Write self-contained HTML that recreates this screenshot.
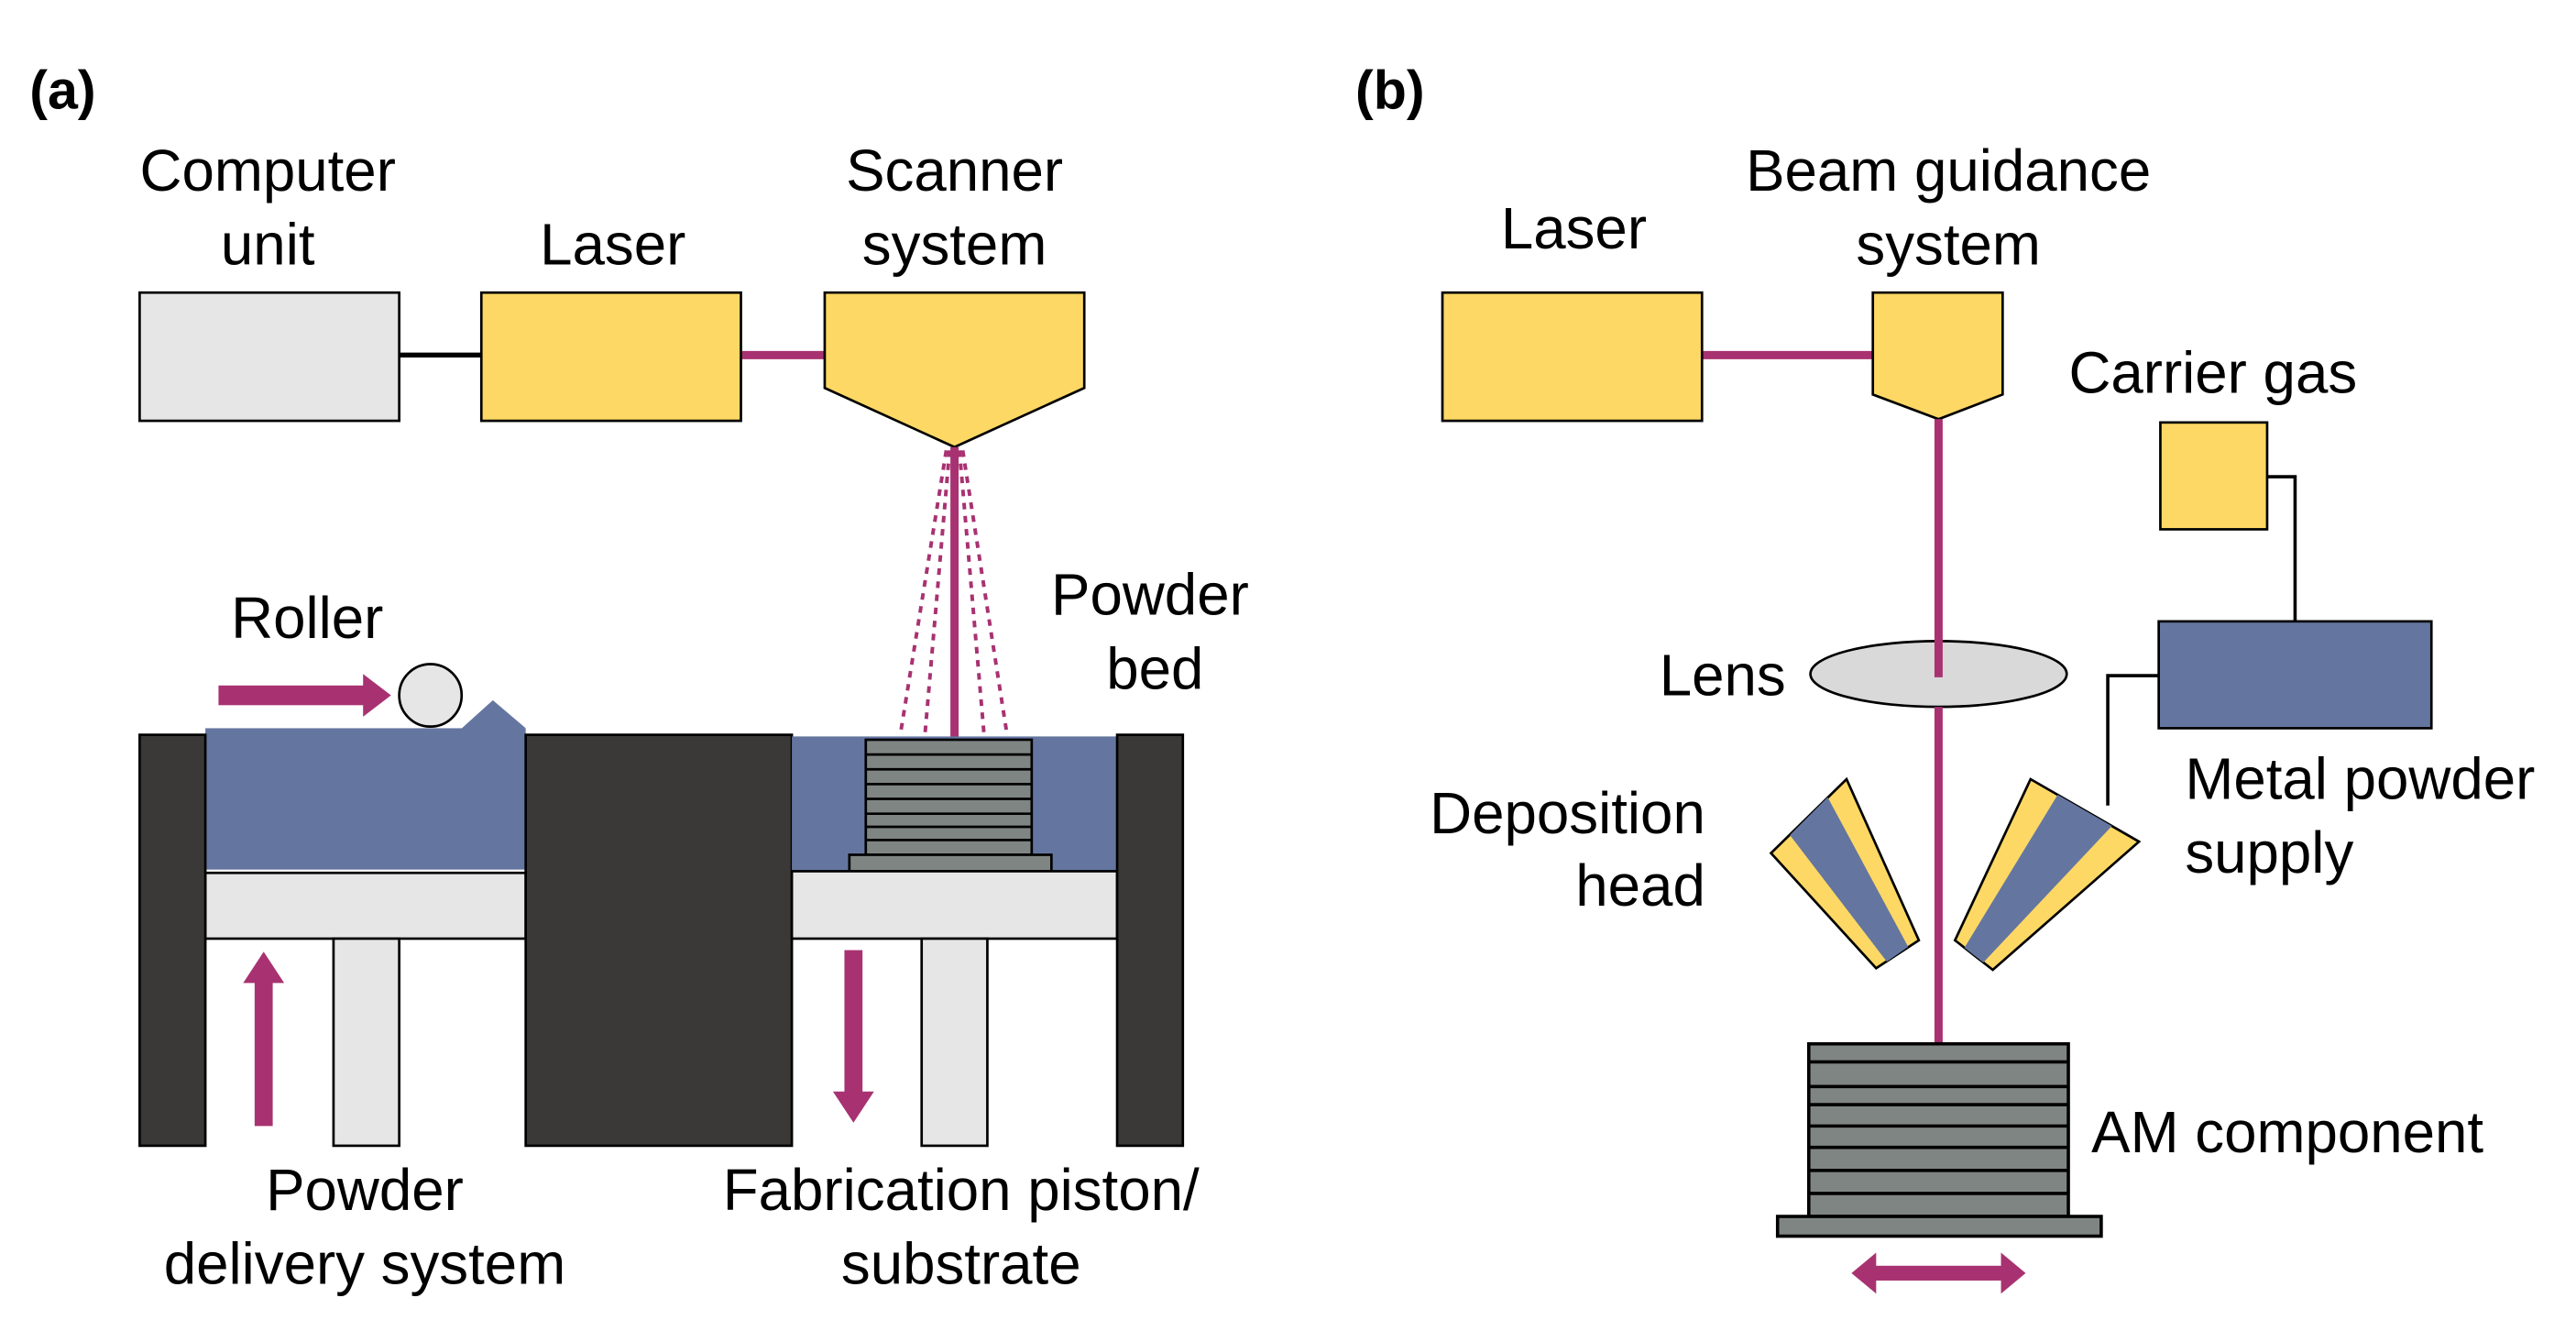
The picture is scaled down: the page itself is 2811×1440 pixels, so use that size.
<!DOCTYPE html>
<html><head><meta charset="utf-8"><style>
html,body{margin:0;padding:0;background:#fff;}
svg{display:block;}
text{font-family:"Liberation Sans",Arial,sans-serif;font-size:35.5px;fill:#000;}
</style></head><body>
<svg width="2811" height="1440" viewBox="0 0 1568 803" preserveAspectRatio="none" xmlns="http://www.w3.org/2000/svg">
<rect width="1568" height="803" fill="#fff"/>
<!-- (a) -->
<text x="18" y="66" style="font-weight:bold;font-size:33px">(a)</text>
<text x="163" y="116" text-anchor="middle">Computer</text>
<text x="163" y="161" text-anchor="middle">unit</text>
<text x="373" y="161" text-anchor="middle">Laser</text>
<text x="581" y="116" text-anchor="middle">Scanner</text>
<text x="581" y="161" text-anchor="middle">system</text>
<line x1="243" y1="216" x2="293" y2="216" stroke="#000" stroke-width="3"/>
<line x1="451" y1="216" x2="502" y2="216" stroke="#a83271" stroke-width="5"/>
<rect x="85" y="178" width="158" height="78" fill="#e6e6e6" stroke="#000" stroke-width="1.5"/>
<rect x="293" y="178" width="158" height="78" fill="#fdd865" stroke="#000" stroke-width="1.5"/>
<polygon points="502,178 660,178 660,236 581,272 502,236" fill="#fdd865" stroke="#000" stroke-width="1.5"/>
<g stroke="#a83271" stroke-width="2.2" stroke-dasharray="4,4" fill="none">
<line x1="576" y1="274" x2="548" y2="447"/>
<line x1="578" y1="274" x2="563" y2="447"/>
<line x1="584" y1="274" x2="599" y2="447"/>
<line x1="586" y1="274" x2="613" y2="447"/>
</g>
<line x1="581" y1="272" x2="581" y2="450" stroke="#a83271" stroke-width="5"/>
<text x="187" y="388" text-anchor="middle">Roller</text>
<text x="700" y="374" text-anchor="middle">Powder</text>
<text x="703" y="419" text-anchor="middle">bed</text>
<!-- roller arrow -->
<rect x="133" y="417" width="90" height="12" fill="#a83271"/>
<polygon points="221,410 238,423 221,436" fill="#a83271"/>
<polygon points="280,444 300,426 320,443" fill="#6476a0"/>
<circle cx="262" cy="423" r="19" fill="#e6e6e6" stroke="#000" stroke-width="1.5"/>
<!-- left chamber -->
<rect x="125" y="443" width="195" height="86" fill="#6476a0"/>
<rect x="125" y="531" width="195" height="40" fill="#e6e6e6" stroke="#000" stroke-width="1.5"/>
<rect x="203" y="571" width="40" height="126" fill="#e6e6e6" stroke="#000" stroke-width="1.5"/>
<rect x="85" y="447" width="40" height="250" fill="#3a3937" stroke="#000" stroke-width="1.5"/>
<rect x="320" y="447" width="162" height="250" fill="#3a3937" stroke="#000" stroke-width="1.5"/>
<!-- right chamber -->
<rect x="482" y="448" width="198" height="82" fill="#6476a0"/>
<g fill="#7f8583" stroke="#000" stroke-width="1.5">
<rect x="527" y="450" width="101" height="70"/>
<line x1="527" y1="459" x2="628" y2="459"/>
<line x1="527" y1="468" x2="628" y2="468"/>
<line x1="527" y1="477" x2="628" y2="477"/>
<line x1="527" y1="486" x2="628" y2="486"/>
<line x1="527" y1="495" x2="628" y2="495"/>
<line x1="527" y1="503" x2="628" y2="503"/>
<line x1="527" y1="511" x2="628" y2="511"/>
<rect x="517" y="520" width="123" height="10"/>
</g>
<rect x="482" y="530" width="198" height="41" fill="#e6e6e6" stroke="#000" stroke-width="1.5"/>
<rect x="561" y="571" width="40" height="126" fill="#e6e6e6" stroke="#000" stroke-width="1.5"/>
<rect x="680" y="447" width="40" height="250" fill="#3a3937" stroke="#000" stroke-width="1.5"/>
<!-- up/down arrows -->
<rect x="155" y="596" width="11" height="89" fill="#a83271"/>
<polygon points="148,598 160.5,579 173,598" fill="#a83271"/>
<rect x="514" y="578" width="11" height="88" fill="#a83271"/>
<polygon points="507,664 519.5,683 532,664" fill="#a83271"/>
<text x="222" y="736" text-anchor="middle">Powder</text>
<text x="222" y="781" text-anchor="middle">delivery system</text>
<text x="585" y="736" text-anchor="middle">Fabrication piston/</text>
<text x="585" y="781" text-anchor="middle">substrate</text>
<!-- (b) -->
<text x="825" y="66" style="font-weight:bold;font-size:33px">(b)</text>
<text x="958" y="151" text-anchor="middle">Laser</text>
<text x="1186" y="116" text-anchor="middle">Beam guidance</text>
<text x="1186" y="161" text-anchor="middle">system</text>
<line x1="1036" y1="216" x2="1140" y2="216" stroke="#a83271" stroke-width="5"/>
<rect x="878" y="178" width="158" height="78" fill="#fdd865" stroke="#000" stroke-width="1.5"/>
<polygon points="1140,178 1219,178 1219,240 1180,255 1140,240" fill="#fdd865" stroke="#000" stroke-width="1.5"/>
<text x="1347" y="239" text-anchor="middle">Carrier gas</text>
<polyline points="1380,290 1397,290 1397,379" fill="none" stroke="#000" stroke-width="2"/>
<polyline points="1314,411 1283,411 1283,490" fill="none" stroke="#000" stroke-width="2"/>
<rect x="1315" y="257" width="65" height="65" fill="#fdd865" stroke="#000" stroke-width="1.5"/>
<rect x="1314" y="378" width="166" height="65" fill="#6476a0" stroke="#000" stroke-width="1.5"/>
<text x="1330" y="486">Metal powder</text>
<text x="1330" y="531">supply</text>
<ellipse cx="1180" cy="410" rx="78" ry="20" fill="#d9d9d9" stroke="#000" stroke-width="1.5"/>
<line x1="1180" y1="255" x2="1180" y2="412" stroke="#a83271" stroke-width="5"/>
<line x1="1180" y1="430" x2="1180" y2="636" stroke="#a83271" stroke-width="5"/>
<text x="1087" y="423" text-anchor="end">Lens</text>
<text x="1038" y="507" text-anchor="end">Deposition</text>
<text x="1038" y="551" text-anchor="end">head</text>
<!-- nozzles -->
<polygon points="1124,474 1078,519 1142,589 1168,572" fill="#fdd865" stroke="#000" stroke-width="1.5"/>
<polygon points="1112.5,485 1089.5,508 1148.5,585 1161.5,576" fill="#6476a0"/>
<polygon points="1236,474 1302,512 1213,590 1190,572" fill="#fdd865" stroke="#000" stroke-width="1.5"/>
<polygon points="1252.5,483.5 1285.5,502.5 1207.25,585.5 1195.75,576.5" fill="#6476a0"/>
<!-- AM component -->
<g fill="#7f8583" stroke="#000" stroke-width="2">
<rect x="1101" y="635" width="158" height="105"/>
<line x1="1101" y1="646" x2="1259" y2="646"/>
<line x1="1101" y1="661" x2="1259" y2="661"/>
<line x1="1101" y1="672" x2="1259" y2="672"/>
<line x1="1101" y1="685" x2="1259" y2="685"/>
<line x1="1101" y1="698" x2="1259" y2="698"/>
<line x1="1101" y1="712" x2="1259" y2="712"/>
<line x1="1101" y1="726" x2="1259" y2="726"/>
<rect x="1082" y="740" width="197" height="12"/>
</g>
<text x="1273" y="701">AM component</text>
<rect x="1140" y="770" width="80" height="9" fill="#a83271"/>
<polygon points="1127,774.5 1142,762 1142,787" fill="#a83271"/>
<polygon points="1233,774.5 1218,762 1218,787" fill="#a83271"/>
</svg>
</body></html>
